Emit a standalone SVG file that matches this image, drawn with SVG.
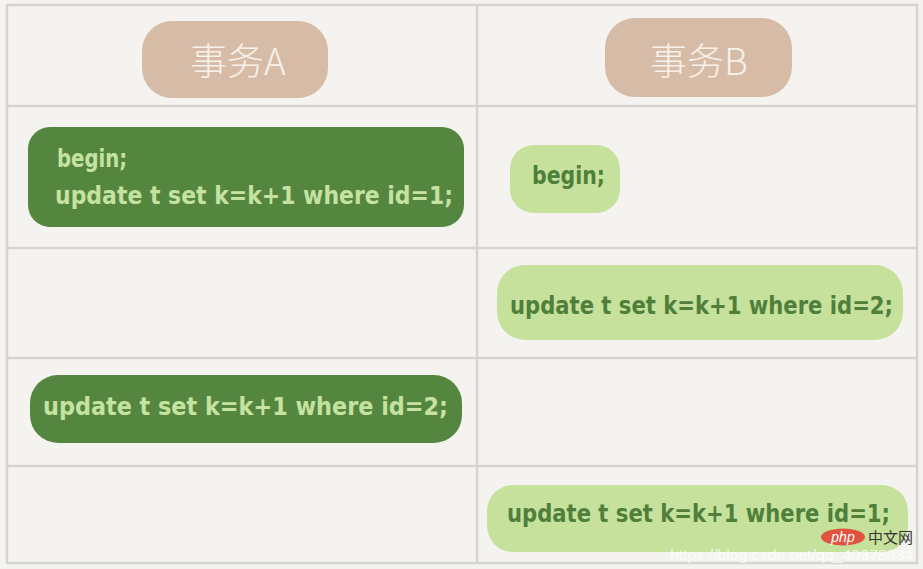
<svg xmlns="http://www.w3.org/2000/svg" width="923" height="569" viewBox="0 0 923 569">
  <style>
    .grid { stroke: #d5d4d0; stroke-width: 2.5; fill: none; }
    .hdr { fill: #d6bca7; }
    .hdrtxt { fill: #f7f1ea; font-family: "Noto Sans CJK SC", "Noto Sans", sans-serif; font-size: 37px; font-weight: 300; text-anchor: middle; }
    .dark { fill: #558640; }
    .darktxt { fill: #c5e2a0; font-family: "DejaVu Sans Condensed", "Liberation Sans", sans-serif; font-size: 24px; font-weight: bold; }
    .light { fill: #c6e19b; }
    .lighttxt { fill: #4f7f3b; font-family: "DejaVu Sans Condensed", "Liberation Sans", sans-serif; font-size: 24px; font-weight: bold; }
    .wm { font-family: "Liberation Sans", Arial, sans-serif; }
  </style>
  <rect x="0" y="0" width="923" height="569" fill="#f4f3ef"/>
  <g id="grid">
    <rect class="grid" x="7" y="5" width="910" height="558"/>
    <line class="grid" x1="477" y1="5" x2="477" y2="563"/>
    <line class="grid" x1="7" y1="106" x2="917" y2="106"/>
    <line class="grid" x1="7" y1="248" x2="917" y2="248"/>
    <line class="grid" x1="7" y1="358" x2="917" y2="358"/>
    <line class="grid" x1="7" y1="466" x2="917" y2="466"/>
  </g>
  <g id="connectors"></g>
  <g id="header-a">
    <rect class="hdr" x="142" y="21" width="186" height="77" rx="30"/>
    <text class="hdrtxt" x="238" y="75">事务A</text>
  </g>
  <g id="header-b">
    <rect class="hdr" x="605" y="18" width="187" height="79" rx="30"/>
    <text class="hdrtxt" x="699" y="75">事务B</text>
  </g>
  <g id="a-step1">
    <rect class="dark" x="28" y="127" width="436" height="100" rx="22"/>
    <text class="darktxt" x="57" y="167" textLength="70" lengthAdjust="spacingAndGlyphs">begin;</text>
    <text class="darktxt" x="55" y="204" textLength="398" lengthAdjust="spacingAndGlyphs">update t set k=k+1 where id=1;</text>
  </g>
  <g id="b-step1">
    <rect class="light" x="510" y="145" width="110" height="68" rx="24"/>
    <text class="lighttxt" x="532" y="184" textLength="73" lengthAdjust="spacingAndGlyphs">begin;</text>
  </g>
  <g id="b-step2">
    <rect class="light" x="497" y="265" width="406" height="75" rx="28"/>
    <text class="lighttxt" x="510" y="314" textLength="383" lengthAdjust="spacingAndGlyphs">update t set k=k+1 where id=2;</text>
  </g>
  <g id="a-step2">
    <rect class="dark" x="30" y="375" width="432" height="68" rx="28"/>
    <text class="darktxt" x="43" y="415" textLength="405" lengthAdjust="spacingAndGlyphs">update t set k=k+1 where id=2;</text>
  </g>
  <g id="b-step3">
    <rect class="light" x="487" y="485" width="421" height="67" rx="26"/>
    <text class="lighttxt" x="507" y="522" textLength="383" lengthAdjust="spacingAndGlyphs">update t set k=k+1 where id=1;</text>
  </g>
  <g id="watermark">
    <ellipse cx="843" cy="537" rx="22" ry="8.5" fill="#e0533f"/>
    <text class="wm" x="843" y="542" font-size="14" fill="#ffffff" text-anchor="middle" font-style="italic">php</text>
    <text x="868" y="543" font-size="15" fill="#333333" font-family="Noto Sans CJK SC, sans-serif">中文网</text>
    <text class="wm" x="670" y="560" font-size="15.5" fill="#ffffff" fill-opacity="0.75" textLength="243" lengthAdjust="spacingAndGlyphs">https://blog.csdn.net/qq_40378034</text>
  </g>
</svg>
